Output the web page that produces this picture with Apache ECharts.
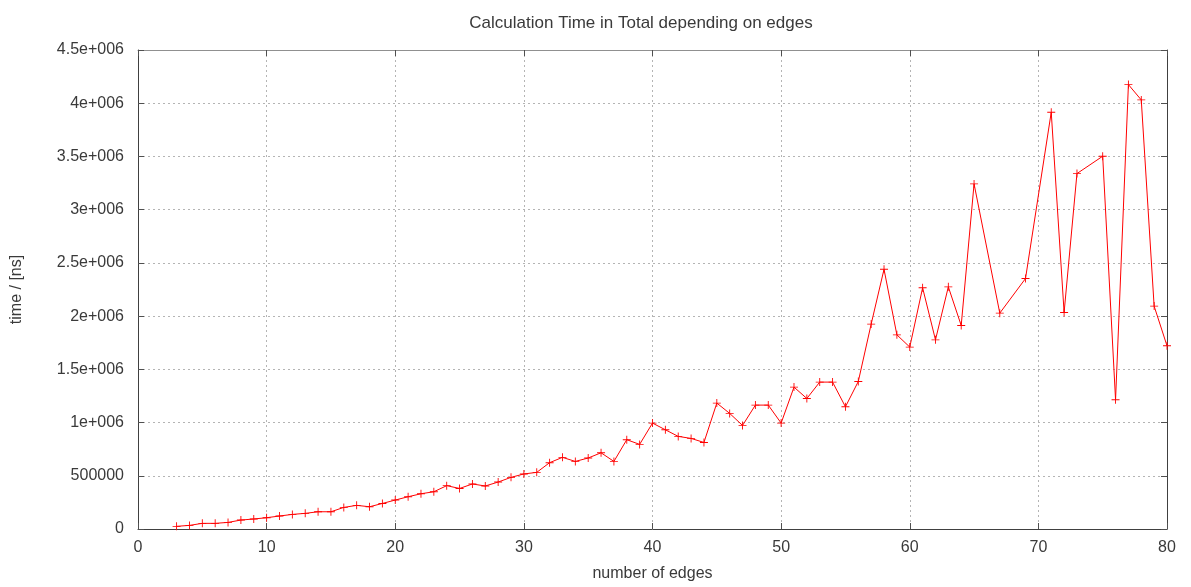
<!DOCTYPE html>
<html>
<head>
<meta charset="utf-8">
<title>Calculation Time in Total depending on edges</title>
<script src="https://cdn.jsdelivr.net/npm/echarts@6/dist/echarts.min.js"></script>
<style>
	html, body { margin: 0; padding: 0; background: #fff; }
	#chart { width: 1191px; height: 587px; }
</style>
</head>
<body>
<div id="chart"></div>
<script>
// number of edges (x)
var edges = [3, 4, 5, 6, 7, 8, 9, 10, 11, 12, 13, 14, 15, 16, 17, 18, 19, 20,
	21, 22, 23, 24, 25, 26, 27, 28, 29, 30, 31, 32, 33, 34, 35, 36, 37, 38, 39, 40,
	41, 42, 43, 44, 45, 46, 47, 48, 49, 50, 51, 52, 53, 54, 55, 56, 57, 58, 59, 60,
	61, 62, 63, 64, 65, 67, 69, 71, 72, 73, 75, 76, 77, 78, 79, 80];
// time in ns (y)
var times = [25000, 34000, 53000, 53000, 62000, 84000, 94000, 106000, 122000, 137000,
	147000, 162000, 162000, 203000, 222000, 209000, 240000, 272000,
	303000, 331000, 350000, 407000, 381000, 423000, 404000, 441000, 485000, 517000,
	532000, 623000, 673000, 635000, 667000, 716000, 635000, 839000, 795000, 995000,
	932000, 870000, 851000, 813000, 1183000, 1086000, 973000, 1164000, 1164000, 995000,
	1333000, 1226000, 1380000, 1380000, 1148000, 1386000, 1925000, 2440000, 1824000, 1709000,
	2266000, 1777000, 2275000, 1912000, 3242000, 2028000, 2353000, 3915000, 2034000, 3339000,
	3502000, 1214000, 4175000, 4031000, 2094000, 1721000];

var xTicks = [0, 80, 10];
var yTicks = [0, 4500000, 500000];

// gnuplot 风格的刻度文字
function fmtY(v) {
	if (v === 0) return '0';
	if (v < 1000000) return String(v);
	return (v / 1000000) + 'e+006';
}

var points = [];
for (var i = 0; i < edges.length; i++) {
	points.push([edges[i], times[i]]);
}

var font = 'Liberation Sans, Arial, sans-serif';
var txt = '#3a3a3a';
var gridLine = { show: true, lineStyle: { color: '#b4b4b4', type: [2, 3], width: 1 } };

// 边框线, onZero 关掉, 否则上/右两条会跑到 0 的位置
function frame(color) {
	return { show: true, onZero: false, lineStyle: { color: color, width: 1 } };
}
// 刻度朝内
function inTick() {
	return { show: true, inside: true, length: 6, lineStyle: { color: '#505050', width: 1 } };
}

var myChart = echarts.init(document.getElementById('chart'));
var option = {
	animation: false,
	title: {
		text: 'Calculation Time in Total depending on edges',
		left: 636, top: 10,
		textAlign: 'center',
		textStyle: { fontFamily: font, fontSize: 17, fontWeight: 'normal', color: txt }
	},
	grid: { left: 138, right: 24, top: 50, bottom: 58, containLabel: false, outerBoundsMode: 'none' },
	xAxis: [{
		type: 'value', min: xTicks[0], max: xTicks[1], interval: xTicks[2],
		name: 'number of edges', nameLocation: 'middle', nameGap: 37,
		nameTextStyle: { fontFamily: font, fontSize: 16, color: txt },
		axisLine: frame('#404040'), axisTick: inTick(), splitLine: gridLine,
		axisLabel: { fontFamily: font, fontSize: 16, color: txt, margin: 11 }
	}, {
		type: 'value', position: 'top', min: xTicks[0], max: xTicks[1], interval: xTicks[2],
		axisLine: frame('#909090'), axisTick: inTick(), splitLine: { show: false }, axisLabel: { show: false }
	}],
	yAxis: [{
		type: 'value', min: yTicks[0], max: yTicks[1], interval: yTicks[2],
		name: 'time / [ns]', nameLocation: 'middle', nameGap: 113, nameRotate: 90,
		nameTextStyle: { fontFamily: font, fontSize: 16, color: txt },
		axisLine: frame('#404040'), axisTick: inTick(), splitLine: gridLine,
		axisLabel: { fontFamily: font, fontSize: 16, color: txt, margin: 14, formatter: fmtY }
	}, {
		type: 'value', position: 'right', min: yTicks[0], max: yTicks[1], interval: yTicks[2],
		axisLine: frame('#404040'), axisTick: inTick(), splitLine: { show: false }, axisLabel: { show: false }
	}],
	series: [{
		type: 'line',
		data: points,
		symbol: 'path://M4,0 L5,0 L5,4 L9,4 L9,5 L5,5 L5,9 L4,9 L4,5 L0,5 L0,4 L4,4 Z',
		symbolSize: 8,
		itemStyle: { color: '#ff0000' },
		lineStyle: { color: '#ff0000', width: 1 }
	}]
};
myChart.setOption(option);
</script>
</body>
</html>
